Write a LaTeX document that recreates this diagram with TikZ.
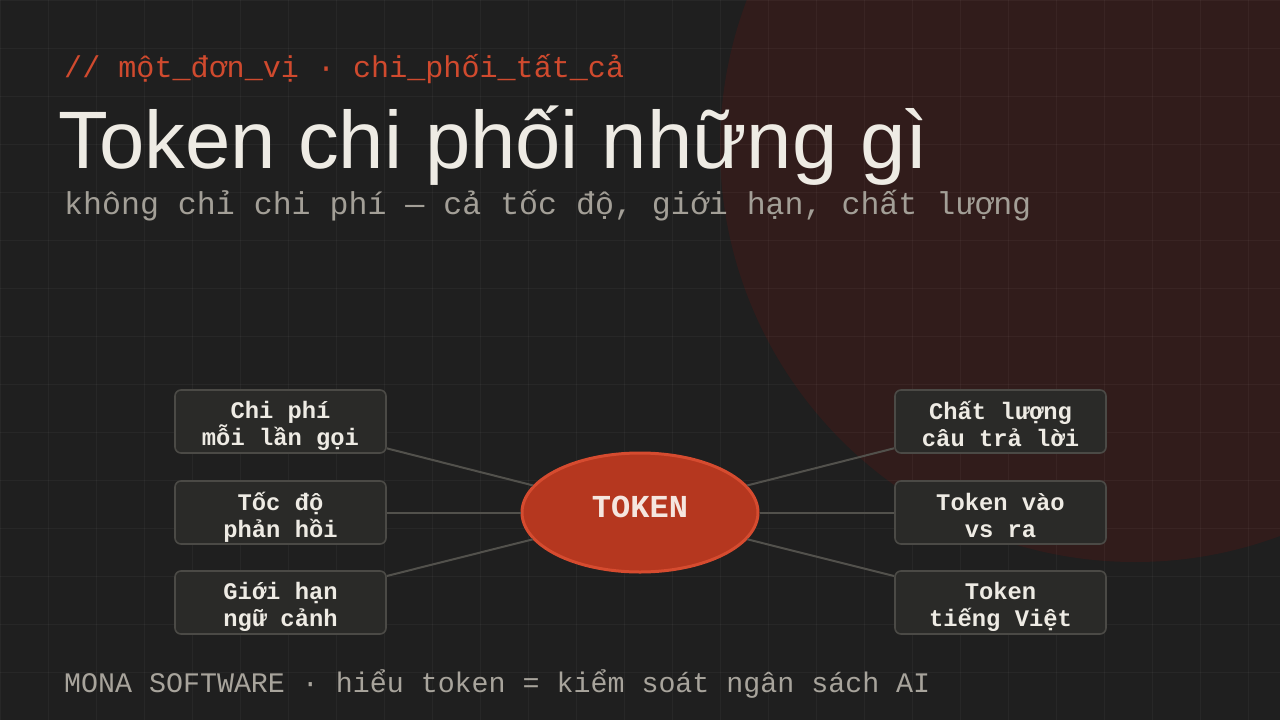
\documentclass[tikz,border=0pt]{standalone}
\usepackage{fontspec}
\setmainfont{Liberation Sans}
\setmonofont{Liberation Mono}
\usetikzlibrary{shapes.geometric}
\definecolor{bgc}{HTML}{1F1F1F}
\definecolor{circc}{HTML}{311C1B}
\definecolor{accent}{HTML}{D04A2E}
\definecolor{titlec}{HTML}{EEEBE4}
\definecolor{subc}{HTML}{A39F97}
\definecolor{footc}{HTML}{A8A49C}
\definecolor{boxfill}{HTML}{2A2A28}
\definecolor{boxline}{HTML}{4B4A46}
\definecolor{ellfill}{HTML}{B5371F}
\definecolor{ellline}{HTML}{D64B2F}
\definecolor{tokc}{HTML}{F5E6DF}
\definecolor{linkc}{HTML}{52514C}
\newcommand\bxtop{\rule{0pt}{27pt}}
\newcommand\bxbot{\rule[-5pt]{0pt}{5pt}}
\tikzset{
  gridline/.style={draw=white, opacity=0.04, line width=1pt},
  topbox/.style={rectangle, rounded corners=6pt, draw=boxline, line width=1.6pt, fill=boxfill,
    minimum width=211pt, minimum height=63pt, inner sep=0pt, align=center, text=titlec,
    font=\ttfamily\bfseries\fontsize{23.8}{27}\selectfont},
  tokell/.style={ellipse, draw=ellline, line width=3pt, fill=ellfill, minimum width=236pt,
    minimum height=119pt, inner sep=0pt, text=tokc, text depth=12pt,
    font=\ttfamily\bfseries\fontsize{32}{36}\selectfont},
  link/.style={draw=linkc, line width=2pt},
  kicker/.style={anchor=base west, inner sep=0pt, text=accent, font=\ttfamily\fontsize{30.1}{34}\selectfont},
  headline/.style={anchor=base west, inner sep=0pt, text=titlec, font=\fontsize{81.5}{90}\selectfont},
  subline/.style={anchor=base west, inner sep=0pt, text=subc, font=\ttfamily\fontsize{31.6}{36}\selectfont},
  footline/.style={anchor=base west, inner sep=0pt, text=footc, font=\ttfamily\fontsize{28.3}{33}\selectfont}
}
\begin{document}
\begin{tikzpicture}[x=1pt,y=-1pt]
\useasboundingbox (0,0) rectangle (1280,720);
\fill[bgc] (0,0) rectangle (1280,720);
\fill[circc] (1135,147) circle[radius=415pt];
\foreach \i in {0,48,...,1280} \draw[gridline] (\i,0) -- (\i,720);
\foreach \j in {0,48,...,720} \draw[gridline] (0,\j) -- (1280,\j);

\node[kicker] (kick) at (64,77) {// một\_đơn\_vị · chi\_phối\_tất\_cả};
\node[headline] (title) at (58,168) {Token chi phối những gì};
\node[subline] (sub) at (64,214) {không chỉ chi phí — cả tốc độ, giới hạn, chất lượng};

\node[tokell] (tok) at (640,512.5) {TOKEN};

\node[topbox] (l1) at (280.5,421.5) {\bxtop Chi phí\\mỗi lần gọi\bxbot};
\node[topbox] (l2) at (280.5,512.5) {\bxtop Tốc độ\\phản hồi\bxbot};
\node[topbox] (l3) at (280.5,602.5) {\bxtop Giới hạn\\ngữ cảnh\bxbot};
\node[topbox] (r1) at (1000.5,421.5) {\bxtop Chất lượng\\câu trả lời\bxbot};
\node[topbox] (r2) at (1000.5,512.5) {\bxtop Token vào\\vs ra\bxbot};
\node[topbox] (r3) at (1000.5,602.5) {\bxtop Token\\tiếng Việt\bxbot};

\foreach \n in {l1,l2,l3,r1,r2,r3} \draw[link] (\n) -- (tok);

\node[footline] (foot) at (64,692) {MONA SOFTWARE · hiểu token = kiểm soát ngân sách AI};
\end{tikzpicture}
\end{document}
